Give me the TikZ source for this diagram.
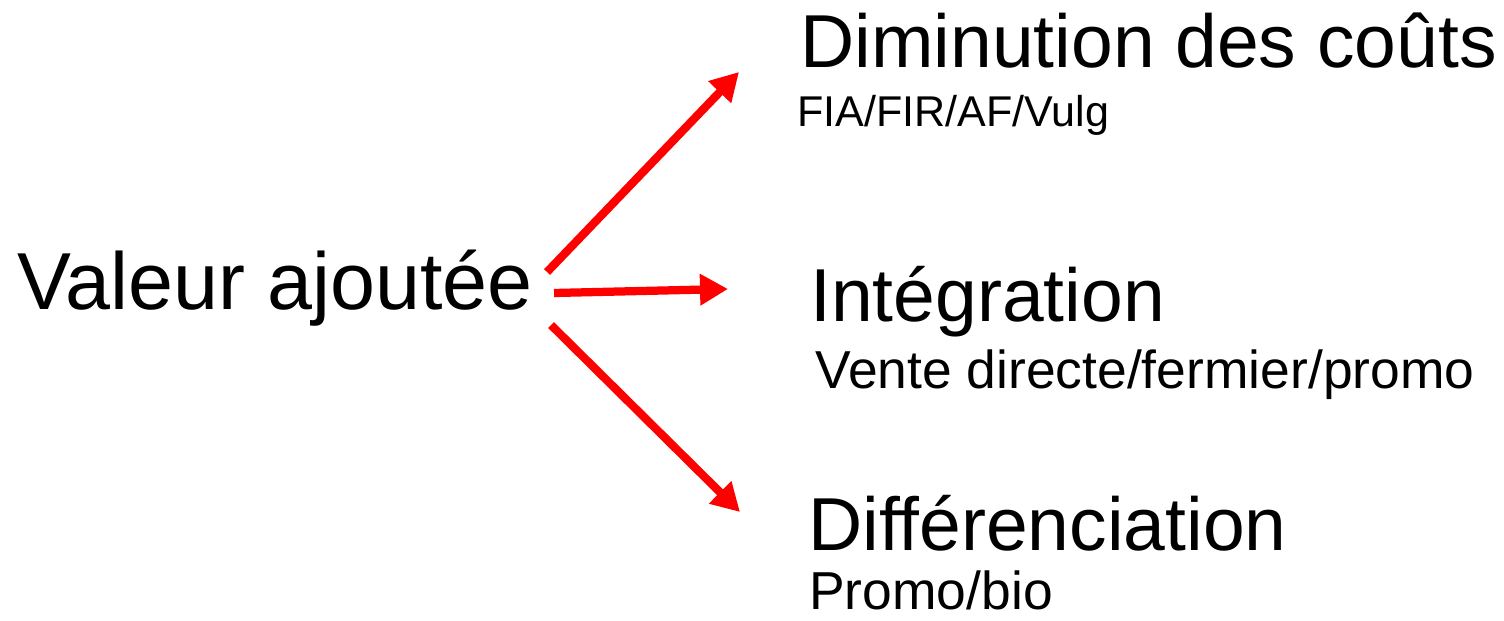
\documentclass[tikz,border=0pt]{standalone}
\usepackage{fontspec}
\setmainfont{Liberation Sans}
\usetikzlibrary{positioning,arrows.meta}

\begin{document}
\begin{tikzpicture}[every node/.style={inner sep=0pt,anchor=base west},
  gross/.style={font=\fontsize{42.7}{50}\selectfont},
  klein/.style={font=\fontsize{30.4}{36}\selectfont},
  pfeil/.style={-{Triangle[length=0.56cm,width=0.6cm]},red,line width=0.165cm}]
\useasboundingbox (0,0) rectangle (30.08,12.4);
\node[font=\fontsize{46}{54}\selectfont] (v1) at (0.34,6.22) {Valeur ajoutée};
\node[gross] (v2) at (16.0,11.04) {Diminution des coûts};
\node[font=\fontsize{24.5}{28}\selectfont] (v3) at (15.94,9.88) {FIA/FIR/AF/Vulg};
\node[gross] (v4) at (16.2,5.98) {Intégration};
\node[klein] (v5) at (16.3,4.64) {Vente directe/fermier/promo};
\node[gross] (v6) at (16.16,1.40) {Différenciation};
\node[klein] (v7) at (16.18,0.22) {Promo/bio};

\draw[pfeil] ([xshift=0.28cm,yshift=0.74cm]v1.base east) to ([xshift=-1.22cm,yshift=-0.08cm]v2.base west);
\draw[pfeil] ([xshift=0.42cm,yshift=0.32cm]v1.base east) to ([xshift=-1.64cm,yshift=0.64cm]v4.base west);
\draw[pfeil] ([xshift=0.36cm,yshift=-0.32cm]v1.base east) to ([xshift=-1.36cm,yshift=0.76cm]v6.base west);


\end{tikzpicture}
\end{document}
